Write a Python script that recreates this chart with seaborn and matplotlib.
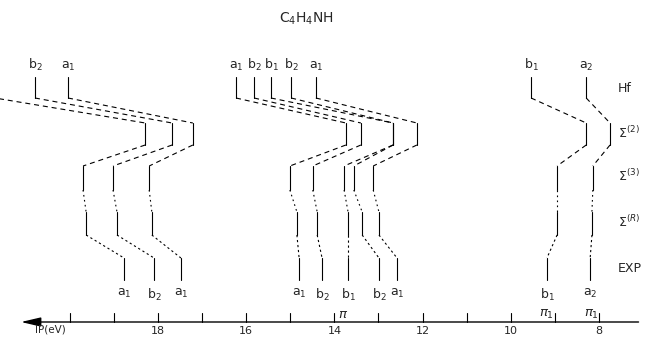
import pandas as pd
import matplotlib
matplotlib.use('Agg')
import matplotlib.pyplot as plt
import seaborn as sns

sns.set_style('white')
plt.rcParams['font.family'] = ['DejaVu Sans']

# ionization energies (eV), one entry per orbital
hf_ev = [21.7, 20.79, 20.04, 16.23, 15.82, 15.44, 14.98, 14.42, 9.54, 8.29]
s2_ev = [18.29, 17.68, 17.21, 13.74, 13.40, 12.67, 12.67, 12.13, 8.29, 7.75]
s3_ev = [19.70, 19.02, 18.20, 15.01, 14.49, 13.78, 13.56, 13.12, 8.95, 8.14]
sr_ev = [19.63, 18.93, 18.14, 14.85, 14.39, 13.69, 13.37, 12.99, 8.95, 8.16]
exp_ev = [18.77, 18.09, 17.48, 14.80, 14.28, 13.69, 12.99, 12.58, 9.18, 8.20]

hf_labels = ['', r'b$_2$', r'a$_1$', r'a$_1$', r'b$_2$', r'b$_1$', r'b$_2$', r'a$_1$', r'b$_1$', r'a$_2$']
exp_labels = [r'a$_1$', r'b$_2$', r'a$_1$', r'a$_1$', r'b$_2$', r'b$_1$', r'b$_2$', r'a$_1$', r'b$_1$', r'a$_2$']

stage_names = ['Hf', r'$\Sigma^{(2)}$', r'$\Sigma^{(3)}$', r'$\Sigma^{(R)}$', 'EXP']
pi_ev = [13.80, 9.18, 8.16]
pi_labels = [r'$\pi$', r'$\pi_1$', r'$\pi_1$']
tick_ev = list(range(8, 21))
ticklabel_ev = [18, 16, 14, 12, 10, 8]

# vertical extent of each row (figure pixels, y down)
row_top = [77, 123, 166, 212, 258]
row_bot = [98, 145, 190, 235, 280]
row_mid = [89, 133, 176, 222, 268]
axis_y = 322

# build segments: level bars + connectors between rows
rows = []
seg = 0
for i in range(len(hf_ev)):
    vals = [hf_ev[i], s2_ev[i], s3_ev[i], sr_ev[i], exp_ev[i]]
    for k in range(5):
        rows.append((seg, vals[k], row_top[k], 'bar'))
        rows.append((seg, vals[k], row_bot[k], 'bar'))
        seg += 1
        if k < 4:
            rows.append((seg, vals[k], row_bot[k], f'c{k}'))
            rows.append((seg, vals[k + 1], row_top[k + 1], f'c{k}'))
            seg += 1
df = pd.DataFrame(rows, columns=['seg', 'ev', 'y', 'kind'])

fig = plt.figure(figsize=(6.49, 3.39), dpi=100)
ax = fig.add_axes([0, 0, 1, 1])

dashes = {'bar': '', 'c0': (4.5, 3.5), 'c1': (4.5, 3.5), 'c2': (1.5, 3), 'c3': (2, 2.5)}
sns.lineplot(data=df, x='ev', y='y', units='seg', style='kind', dashes=dashes,
             estimator=None, sort=False, color='black', lw=0.8, legend=False, ax=ax)

ax.set_xlim(21.583, 6.866)
ax.set_ylim(339, 0)
ax.axis('off')

# labels on levels
for e, lab in zip(hf_ev, hf_labels):
    if lab:
        ax.text(e, 73, lab, ha='center', va='bottom', fontsize=9)
for e, lab in zip(exp_ev, exp_labels):
    ax.text(e, 287, lab, ha='center', va='top', fontsize=9)

for name, y in zip(stage_names, row_mid):
    ax.text(7.57, y, name, ha='left', va='center', fontsize=9)

ax.text(14.64, 19, r'C$_4$H$_4$NH', ha='center', va='center', fontsize=10)

# energy axis with arrow to the left
ax.annotate('', xy=(21.17, axis_y), xytext=(7.04, axis_y),
            arrowprops=dict(arrowstyle='-|>,head_length=1.2,head_width=0.28',
                            lw=1.0, color='black'))
for e in tick_ev:
    ax.plot([e, e], [axis_y, axis_y - 9], color='black', lw=0.8)
for e in ticklabel_ev:
    ax.text(e, axis_y + 4, str(e), ha='center', va='top', fontsize=8)
ax.text(20.45, axis_y + 3, 'IP(eV)', ha='center', va='top', fontsize=7.5)

for e, lab in zip(pi_ev, pi_labels):
    ax.text(e, axis_y - 1, lab, ha='center', va='bottom', fontsize=9.5)

fig.savefig('out.png', dpi=100)
